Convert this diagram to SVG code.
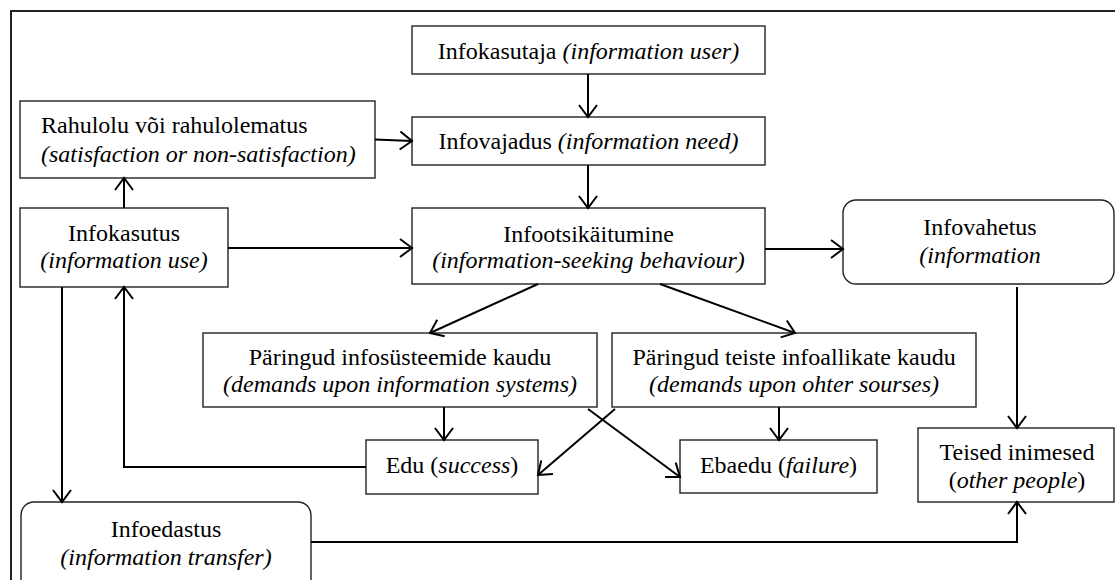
<svg xmlns="http://www.w3.org/2000/svg" width="1115" height="580" viewBox="0 0 1115 580">
<defs>
<style>
.box{fill:#fff;stroke:#222;stroke-width:1.4}
.t{font-family:"Liberation Serif","Times New Roman",serif;font-size:24px;fill:#000}
.c{text-anchor:middle}
.i{font-style:italic}
.con path{fill:none;stroke:#000;stroke-width:2}
.frame{fill:none;stroke:#222;stroke-width:2}
</style>
<marker id="arr" markerUnits="userSpaceOnUse" markerWidth="16" markerHeight="22" viewBox="-14 -11 16 22" refX="0" refY="0" orient="auto">
<path d="M-12,-9 L0,0 L-12,9" fill="none" stroke="#000" stroke-width="2"/>
</marker>
</defs>
<rect width="1115" height="580" fill="#fff"/>
<path class="frame" d="M11,580 V11 H1115"/>

<g id="infokasutaja">
<rect class="box" x="412" y="26" width="353" height="48"/>
<text class="t c" x="588.5" y="59">Infokasutaja <tspan class="i">(information user)</tspan></text>
</g>
<g id="infovajadus">
<rect class="box" x="412" y="117" width="353" height="48"/>
<text class="t c" x="588.5" y="149">Infovajadus <tspan class="i">(information need)</tspan></text>
</g>
<g id="rahulolu">
<rect class="box" x="20" y="101" width="355" height="77"/>
<text class="t" x="41" y="133">Rahulolu või rahulolematus</text>
<text class="t i" x="41" y="162">(satisfaction or non-satisfaction)</text>
</g>
<g id="infokasutus">
<rect class="box" x="20" y="208" width="208" height="79"/>
<text class="t c" x="124" y="241">Infokasutus</text>
<text class="t c i" x="124" y="268">(information use)</text>
</g>
<g id="infootsikaitumine">
<rect class="box" x="412" y="208" width="353" height="76"/>
<text class="t c" x="588.5" y="242">Infootsikäitumine</text>
<text class="t c i" x="588.5" y="268">(information-seeking behaviour)</text>
</g>
<g id="infovahetus">
<rect class="box" x="843" y="200" width="271" height="84" rx="13"/>
<text class="t c" x="980" y="235">Infovahetus</text>
<text class="t c i" x="980" y="263">(information</text>
</g>
<g id="paringud-infosysteemid">
<rect class="box" x="203" y="333" width="394" height="74"/>
<text class="t c" x="400" y="365">Päringud infosüsteemide kaudu</text>
<text class="t c i" x="400" y="392">(demands upon information systems)</text>
</g>
<g id="paringud-teised">
<rect class="box" x="612" y="333" width="364" height="74"/>
<text class="t c" x="794" y="365">Päringud teiste infoallikate kaudu</text>
<text class="t c i" x="794" y="392">(demands upon ohter sourses)</text>
</g>
<g id="edu">
<rect class="box" x="366" y="440" width="172" height="54"/>
<text class="t c" x="452" y="473">Edu (<tspan class="i">success</tspan>)</text>
</g>
<g id="ebaedu">
<rect class="box" x="680" y="440" width="197" height="53"/>
<text class="t c" x="778.5" y="473">Ebaedu (<tspan class="i">failure</tspan>)</text>
</g>
<g id="teised-inimesed">
<rect class="box" x="918" y="428" width="196" height="74"/>
<text class="t c" x="1017" y="460">Teised inimesed</text>
<text class="t c" x="1017" y="488">(<tspan class="i">other people</tspan>)</text>
</g>
<g id="infoedastus">
<rect class="box" x="21" y="502" width="290" height="90" rx="13"/>
<text class="t c" x="166" y="537">Infoedastus</text>
<text class="t c i" x="166" y="565">(information transfer)</text>
</g>

<g id="connectors" class="con">
<path d="M588,74 V117" marker-end="url(#arr)"/>
<path d="M375,139.5 L412,141" marker-end="url(#arr)"/>
<path d="M588,165 V208" marker-end="url(#arr)"/>
<path d="M124,208 V178" marker-end="url(#arr)"/>
<path d="M228,248 H412" marker-end="url(#arr)"/>
<path d="M765,249 H843" marker-end="url(#arr)"/>
<path d="M538,284 L430,333" marker-end="url(#arr)"/>
<path d="M660,284 L795,333" marker-end="url(#arr)"/>
<path d="M444,407 V440" marker-end="url(#arr)"/>
<path d="M779,407 V440" marker-end="url(#arr)"/>
<path d="M615,409 L538,475" marker-end="url(#arr)"/>
<path d="M588,409 L680,477" marker-end="url(#arr)"/>
<path d="M366,467 H124 V287" marker-end="url(#arr)"/>
<path d="M62,287 V502" marker-end="url(#arr)"/>
<path d="M1017,287 V428" marker-end="url(#arr)"/>
<path d="M311,542 H1017 V502" marker-end="url(#arr)"/>
</g>
</svg>
